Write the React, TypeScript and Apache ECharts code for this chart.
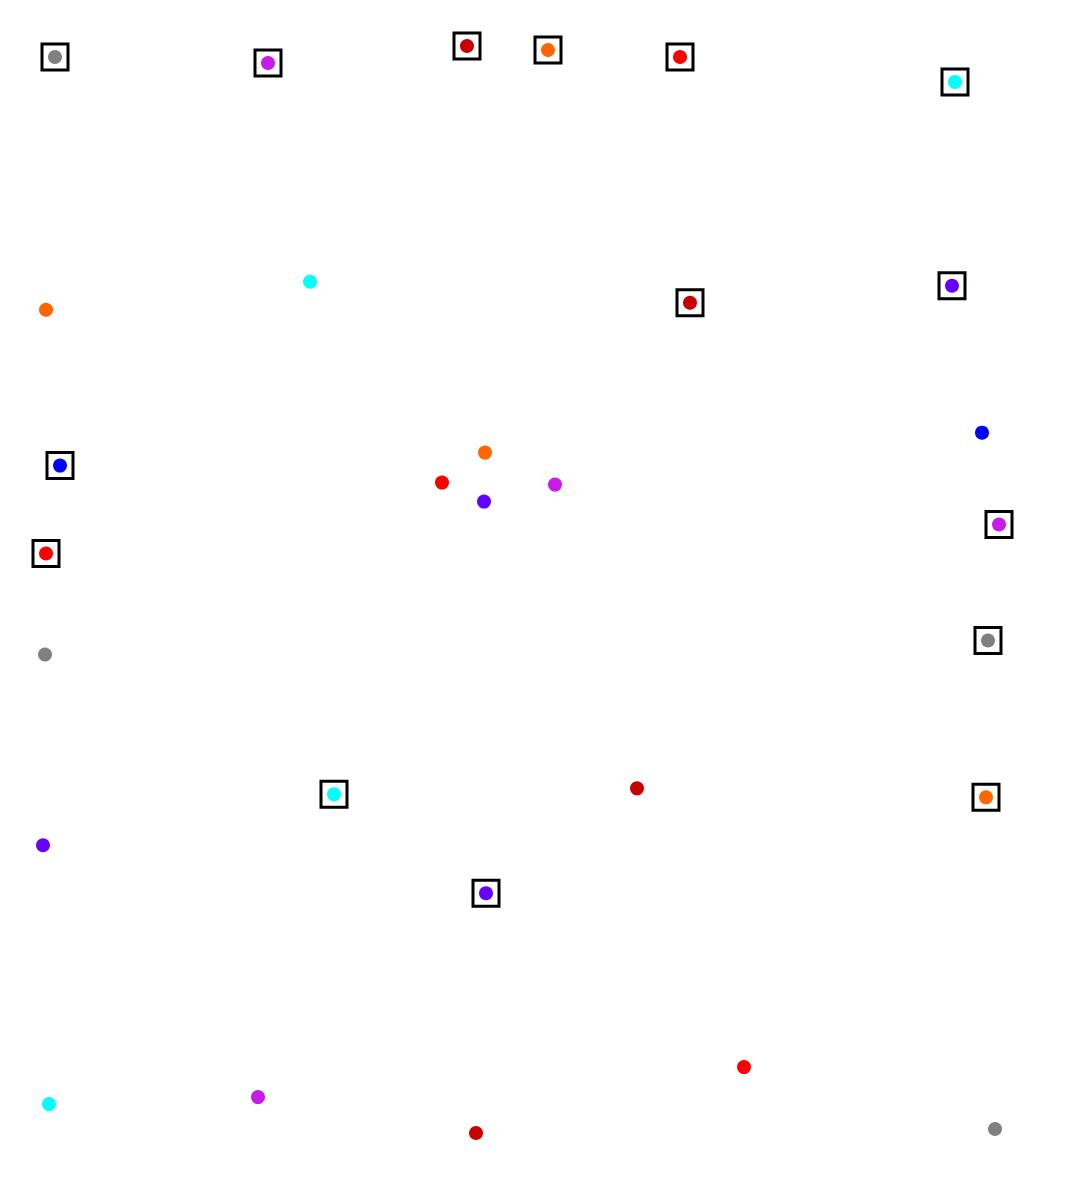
import React, { useEffect, useRef } from "react";
import * as echarts from "echarts";

const xs = [55, 268, 467, 548, 680, 955, 690, 952, 60, 46, 999, 988, 334, 986, 486,
  46, 310, 485, 442, 555, 484, 982, 45, 43, 637, 744, 49, 258, 476, 995];
const ys = [56, 62, 45, 49, 56, 81, 302, 285, 465, 553, 524, 640, 794, 797, 893,
  309, 281, 452, 482, 484, 501, 432, 654, 845, 788, 1067, 1104, 1097, 1133, 1129];
const colors = [
  "#808080", "#c71ce9", "#c80000", "#ff6600", "#ff0000", "#00ffff", "#c80000", "#6600ff",
  "#0000ff", "#ff0000", "#c71ce9", "#808080", "#00ffff", "#ff6600", "#6600ff",
  "#ff6600", "#00ffff", "#ff6600", "#ff0000", "#c71ce9", "#6600ff", "#0000ff", "#808080",
  "#6600ff", "#c80000", "#ff0000", "#00ffff", "#c71ce9", "#c80000", "#808080",
];
const boxed = [true, true, true, true, true, true, true, true, true, true, true, true, true, true, true,
  false, false, false, false, false, false, false, false, false, false, false, false, false, false, false];

export default function App() {
  const ref = useRef<HTMLDivElement>(null);
  useEffect(() => {
    document.body.style.margin = "0";
    const chart = echarts.init(ref.current!, null, { renderer: "svg" });
    const dots = xs.map((x, i) => ({ value: [x, ys[i]], itemStyle: { color: colors[i], opacity: 1 } }));
    const boxes = xs
      .map((x, i) => ({ value: [x, ys[i]], b: boxed[i] }))
      .filter((d) => d.b)
      .map((d) => ({ value: d.value }));
    chart.setOption({
      animation: false,
      grid: { left: 0, top: 1, width: 1068, height: 1187 },
      xAxis: { type: "value", min: 0, max: 1068, show: false },
      yAxis: { type: "value", min: 0, max: 1187, inverse: true, show: false },
      series: [
        {
          type: "scatter",
          data: boxes,
          symbol: "rect",
          symbolSize: 26,
          itemStyle: { color: "#ffffff", borderColor: "#000000", borderWidth: 3, opacity: 1 },
          silent: true,
        },
        {
          type: "scatter",
          data: dots,
          symbol: "circle",
          symbolSize: 14,
          itemStyle: { opacity: 1 },
          silent: true,
        },
      ],
    });
    return () => chart.dispose();
  }, []);
  return <div ref={ref} style={{ width: 1068, height: 1187 }} />;
}
